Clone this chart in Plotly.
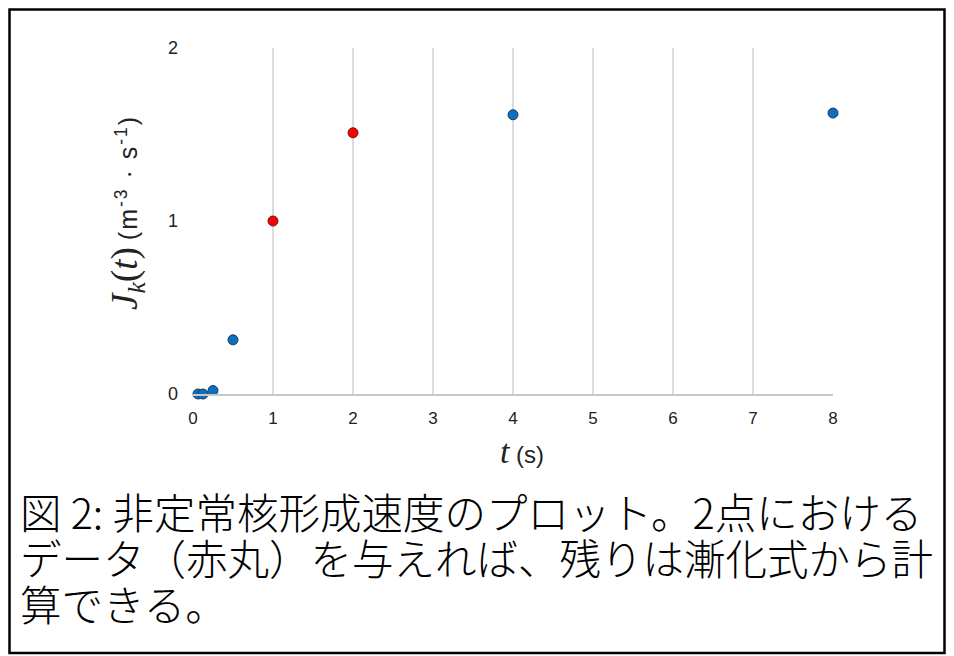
"""Nucleation rate plot (non-steady state)."""

import plotly.graph_objects as go

# page offset of the figure in the browser (default body margin)
OFF = 8
W, H = 954 - 2 * OFF, 656 - OFF
X0, X1, Y0, Y1 = 193, 833, 394, 48   # plot area in page pixels

# data
t_blue = [0.0625, 0.125, 0.25, 0.5, 4, 8]
j_blue = [0.0, 0.0, 0.02, 0.313, 1.614, 1.624]
t_red = [1, 2]
j_red = [1.0, 1.51]

x_ticks = [0, 1, 2, 3, 4, 5, 6, 7, 8]
y_ticks = [0, 1, 2]

caption_lines = [
    "図 2: 非定常核形成速度のプロット。2点における",
    "データ（赤丸）を与えれば、残りは漸化式から計",
    "算できる。",
]

pw, ph = X1 - X0, Y0 - Y1


def px(x):
    return (x - X0) / pw


def py(y):
    return (Y0 - y) / ph


fig = go.Figure()
fig.add_trace(go.Scatter(
    x=t_blue, y=j_blue, mode="markers", cliponaxis=False,
    marker=dict(size=10, color="#0b6fc2", line=dict(color="#1f3a5a", width=1)),
))
fig.add_trace(go.Scatter(
    x=t_red, y=j_red, mode="markers", cliponaxis=False,
    marker=dict(size=10, color="#ff0000", line=dict(color="#5a1f1f", width=1)),
))

fig.update_layout(
    width=W, height=H,
    margin=dict(l=X0 - OFF, r=W - (X1 - OFF), t=Y1 - OFF, b=H - (Y0 - OFF)),
    paper_bgcolor="white", plot_bgcolor="white",
    showlegend=False,
    font=dict(family="Liberation Sans, Arial", color="#222"),
    xaxis=dict(
        range=[0, 8], tickvals=x_ticks, showgrid=True, gridcolor="#dcdcdc",
        gridwidth=1.5, showline=True, linecolor="#c8c8c8", linewidth=1.5,
        zeroline=False, ticks="", ticklabelstandoff=8,
        tickfont=dict(size=17, color="#222"),
    ),
    yaxis=dict(
        range=[0, 2], tickvals=y_ticks, showgrid=False, showline=False,
        zeroline=False, ticks="", ticklabelstandoff=14,
        tickfont=dict(size=18, color="#222"),
    ),
    shapes=[dict(
        type="rect", xref="paper", yref="paper",
        x0=px(9.5), x1=px(944.5), y0=py(9.5), y1=py(653),
        line=dict(color="black", width=2.5),
    )],
)

# y axis title
fig.add_annotation(
    xref="paper", yref="paper", x=px(127), y=py(213),
    textangle=-90, showarrow=False, xanchor="center", yanchor="middle",
    text=('<span style="font-family:Liberation Serif;font-size:37px">'
          '<i>J<sub>k</sub></i>(<i>t</i>)</span>&nbsp;'
          '<span style="letter-spacing:2px">'
          '(m<sup>-3</sup>&nbsp;·&nbsp;s<sup>-1</sup>)</span>'),
    font=dict(size=25, color="#222"),
)
# x axis title
fig.add_annotation(
    xref="paper", yref="paper", x=px(522), y=py(451),
    showarrow=False, xanchor="center", yanchor="middle",
    text=('<span style="font-family:Liberation Serif;font-size:34px">'
          '<i>t</i></span> (s)'),
    font=dict(size=24, color="#222"),
)

# caption
for i, line in enumerate(caption_lines):
    fig.add_annotation(
        xref="paper", yref="paper", x=px(18), y=py(511 + 46 * i),
        showarrow=False, xanchor="left", yanchor="middle", text=line,
        font=dict(family="Noto Sans CJK JP", size=41.5, color="black",
                  weight=300),
    )

fig.write_html("out.html")
